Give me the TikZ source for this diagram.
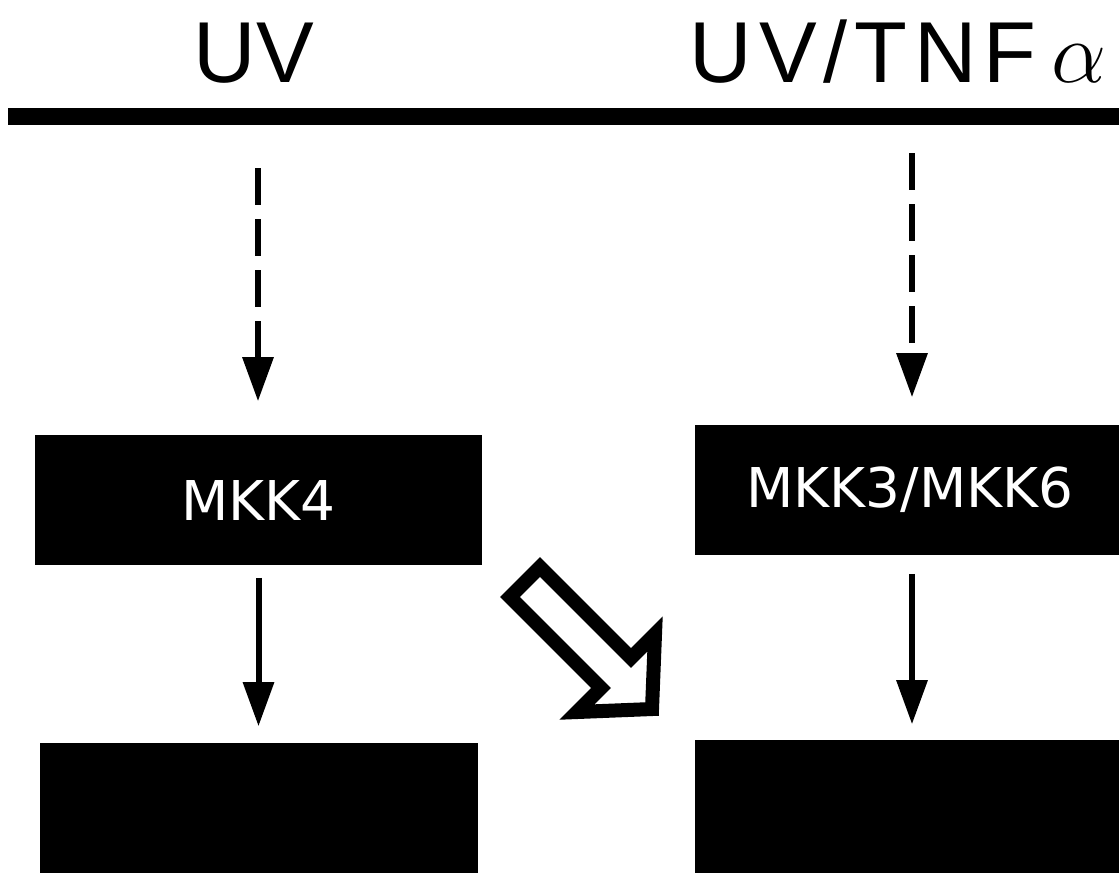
\documentclass[tikz,border=0pt]{standalone}
\usepackage{fontspec}
\newfontfamily\titlefont{Liberation Sans}
\newfontfamily\widetitlefont[LetterSpace=8]{Liberation Sans}
\newfontfamily\boxfont{DejaVu Sans}
\usetikzlibrary{arrows.meta}

\begin{document}
\begin{tikzpicture}[x=0.01cm,y=-0.01cm,
    kinase/.style={rectangle,fill=black,text=white,inner sep=0pt,
        font=\boxfont\fontsize{15.6}{18}\selectfont},
    link/.style={line width=0.06cm,-{Triangle[length=0.44cm,width=0.30cm]}},
    dashlink/.style={link,dash pattern=on 0.37cm off 0.14cm}]
    \useasboundingbox (0,0) rectangle (1119,872);
    \clip (0,0) rectangle (1119,872);
    % titles and bar
    \node[anchor=base,font=\titlefont\fontsize{24.6}{28}\selectfont] (uv) at (254,82) {UV};
    \node[anchor=base,font=\widetitlefont\fontsize{24.6}{28}\selectfont] (uvtnf) at (898,82) {UV/TNF\,{\fontsize{28}{28}\selectfont$\alpha$}};
    \fill (8,108) rectangle (1130,125);
    % kinases
    \node[kinase,minimum width=4.47cm,minimum height=1.30cm] (mkk4) at (258.5,500) {MKK4};
    \node[kinase,minimum width=4.30cm,minimum height=1.30cm] (mkk36) at (910,490) {MKK3/MKK6};
    \node[kinase,minimum width=4.38cm,minimum height=1.40cm] (lowleft) at (259,813) {};
    \node[kinase,minimum width=4.30cm,minimum height=1.40cm] (lowright) at (910,810) {};
    \coordinate (uvsrc) at (258,168);
    \coordinate (tnfsrc) at (912,153);
    % arrows
    \draw[dashlink,shorten >=0.33cm] (uvsrc) -- (uvsrc |- mkk4.north);
    \draw[dashlink,shorten >=0.27cm] (tnfsrc) -- (tnfsrc |- mkk36.north);
    \draw[link,shorten <=0.12cm,shorten >=0.16cm] (mkk4.south) -- (mkk4.south |- lowleft.north);
    \draw[link,shorten <=0.18cm,shorten >=0.15cm] (tnfsrc |- mkk36.south) -- (tnfsrc |- lowright.north);
    % hollow arrow
    \draw[line width=0.14cm,fill=white,miter limit=20]
        (510,597) -- (601,688) -- (577,712) -- (652,709) -- (655,634) -- (631,658) -- (540,567) -- cycle;
\end{tikzpicture}
\end{document}
